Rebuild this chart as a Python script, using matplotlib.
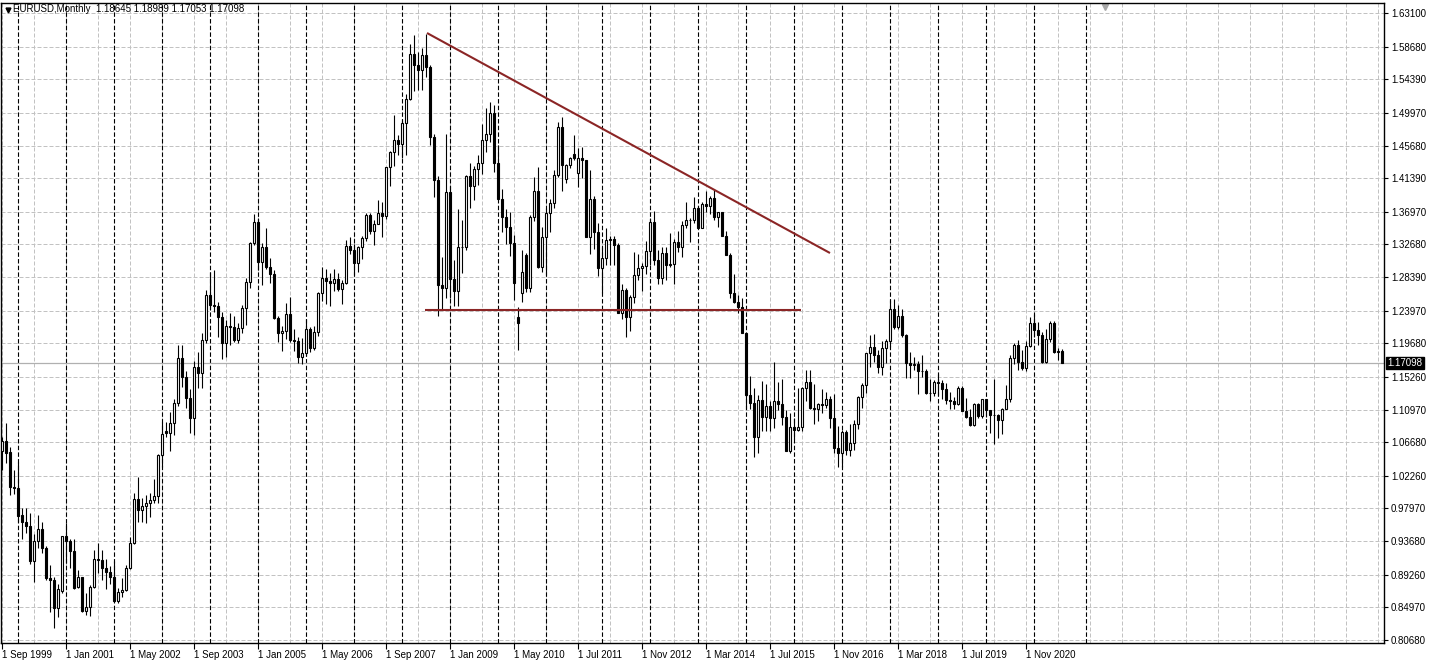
import numpy as np
import matplotlib
matplotlib.use('Agg')
from matplotlib import pyplot as plt
from matplotlib.transforms import blended_transform_factory

# EURUSD monthly, Sep 1999 .. Aug 2021 (broker data, 2 extra bars in 2011)
opens = [
    1.0553, 1.0684, 1.0535, 1.0084,                                   # 1999
    1.0070, 0.9711, 0.9624, 0.9571, 0.9107, 0.9369, 0.9523, 0.9273, 0.8888, 0.8857, 0.8493, 0.8717,  # 2000
    0.9435, 0.9374, 0.9243, 0.8760, 0.8892, 0.8449, 0.8498, 0.8760, 0.9129, 0.9120, 0.9010, 0.8966,  # 2001
    0.8901, 0.8585, 0.8695, 0.8725, 0.9010, 0.9339, 0.9917, 0.9777, 0.9830, 0.9865, 0.9908, 0.9960,  # 2002
    1.0500, 1.0815, 1.0785, 1.0916, 1.1188, 1.1771, 1.1530, 1.1245, 1.0982, 1.1661, 1.1583, 1.2011,  # 2003
    1.2603, 1.2472, 1.2460, 1.2318, 1.1977, 1.2196, 1.2180, 1.2011, 1.2170, 1.2428, 1.2770, 1.3282,  # 2004
    1.3567, 1.3041, 1.3230, 1.2967, 1.2880, 1.2296, 1.2108, 1.2125, 1.2349, 1.2011, 1.1996, 1.1789,  # 2005
    1.1838, 1.2152, 1.1902, 1.2121, 1.2634, 1.2822, 1.2793, 1.2764, 1.2808, 1.2677, 1.2764, 1.3247,  # 2006
    1.3199, 1.3028, 1.3230, 1.3357, 1.3651, 1.3450, 1.3540, 1.3683, 1.3642, 1.4280, 1.4487, 1.4641,  # 2007
    1.4590, 1.4868, 1.5175, 1.5767, 1.5627, 1.5561, 1.5758, 1.5605, 1.4684, 1.4115, 1.2735, 1.2691,  # 2008
    1.3961, 1.2809, 1.2660, 1.3238, 1.3229, 1.4167, 1.4035, 1.4260, 1.4334, 1.4641, 1.4719, 1.4993,  # 2009
    1.4334, 1.3860, 1.3633, 1.3501, 1.3291, 1.2318, 1.2634, 1.3129, 1.2691, 1.3624, 1.3975, 1.2976,  # 2010
    1.3370, 1.3685, 1.3808, 1.4180, 1.4816, 1.4124, 1.4312, 1.4453, 1.4203, 1.4400, 1.4373, 1.3370,
    1.3861, 1.3436,                                                   # 2011
    1.2954, 1.3085, 1.3326, 1.3340, 1.3261, 1.2362, 1.2669, 1.2310, 1.2581, 1.2866, 1.2954, 1.2990,  # 2012
    1.3186, 1.3567, 1.3063, 1.2822, 1.3160, 1.2997, 1.3010, 1.3304, 1.3240, 1.3523, 1.3589, 1.3595,  # 2013
    1.3745, 1.3480, 1.3799, 1.3770, 1.3874, 1.3633, 1.3692, 1.3379, 1.3129, 1.2625, 1.2516, 1.2450,  # 2014
    1.2099, 1.1289, 1.1188, 1.0732, 1.1223, 1.0995, 1.1149, 1.0985, 1.1211, 1.1176, 1.1004, 1.0557,  # 2015
    1.0872, 1.0831, 1.0873, 1.1376, 1.1464, 1.1113, 1.1103, 1.1175, 1.1157, 1.1240, 1.0982, 1.0588,  # 2016
    1.0522, 1.0807, 1.0566, 1.0653, 1.0908, 1.1258, 1.1420, 1.1836, 1.1924, 1.1812, 1.1652, 1.1900,  # 2017
    1.2005, 1.2415, 1.2187, 1.2327, 1.2077, 1.1705, 1.1684, 1.1690, 1.1600, 1.1605, 1.1311, 1.1316,  # 2018
    1.1464, 1.1448, 1.1371, 1.1223, 1.1214, 1.1170, 1.1376, 1.1083, 1.1004, 1.0894, 1.1170, 1.1013,  # 2019
    1.1232, 1.1091, 1.1026, 1.1030, 1.0960, 1.1100, 1.1232, 1.1771, 1.1946, 1.1727, 1.1639, 1.1933,  # 2020
    1.2231, 1.2143, 1.2077, 1.1727, 1.2020, 1.2231, 1.1857, 1.18645,                                 # 2021
]
highs = [
    1.0741, 1.0925, 1.0610, 1.0300,
    1.0414, 0.9799, 0.9800, 0.9733, 0.9457, 0.9711, 0.9624, 0.9304, 0.9054, 0.8901, 0.8800, 0.9435,
    0.9602, 0.9391, 0.9391, 0.8988, 0.8901, 0.8682, 0.8790, 0.9252, 0.9347, 0.9251, 0.9130, 0.9040,
    0.9110, 0.8747, 0.8880, 0.9054, 0.9427, 0.9996, 1.0215, 0.9930, 0.9974, 0.9996, 1.0184, 1.0510,
    1.0938, 1.0938, 1.1070, 1.1230, 1.1946, 1.1950, 1.1608, 1.1363, 1.1740, 1.1860, 1.2100, 1.2668,
    1.2900, 1.2930, 1.2510, 1.2375, 1.2270, 1.2360, 1.2325, 1.2240, 1.2470, 1.2822, 1.3300, 1.3670,
    1.3620, 1.3290, 1.3480, 1.3090, 1.2935, 1.2330, 1.2200, 1.2493, 1.2580, 1.2150, 1.2050, 1.2040,
    1.2285, 1.2180, 1.2197, 1.2640, 1.2975, 1.2950, 1.2890, 1.2940, 1.2890, 1.2800, 1.3320, 1.3365,
    1.3280, 1.3250, 1.3380, 1.3680, 1.3680, 1.3590, 1.3850, 1.3830, 1.4290, 1.4500, 1.4969, 1.4700,
    1.4900, 1.5250, 1.5905, 1.6020, 1.5800, 1.5850, 1.6038, 1.5620, 1.4720, 1.4170, 1.3107, 1.4720,
    1.4040, 1.3060, 1.3740, 1.3589, 1.4180, 1.4340, 1.4300, 1.4445, 1.4845, 1.5060, 1.5140, 1.5100,
    1.4580, 1.3990, 1.3740, 1.3690, 1.3390, 1.2450, 1.3195, 1.3150, 1.3650, 1.4159, 1.4290, 1.3500,
    1.3750, 1.3860, 1.4250, 1.4880, 1.4947, 1.4330, 1.4420, 1.4706, 1.4540, 1.4550, 1.4380, 1.4250,
    1.3900, 1.3550,
    1.3235, 1.3485, 1.3385, 1.3380, 1.3283, 1.2747, 1.2690, 1.2600, 1.3170, 1.3140, 1.3030, 1.3310,
    1.3610, 1.3711, 1.3200, 1.3240, 1.3240, 1.3415, 1.3345, 1.3450, 1.3570, 1.3830, 1.3620, 1.3893,
    1.3775, 1.3825, 1.3965, 1.3905, 1.3993, 1.3700, 1.3700, 1.3445, 1.3150, 1.2885, 1.2600, 1.2570,
    1.2100, 1.1534, 1.1385, 1.1290, 1.1467, 1.1435, 1.1215, 1.1727, 1.1460, 1.1495, 1.1095, 1.1050,
    1.0990, 1.1375, 1.1400, 1.1617, 1.1615, 1.1428, 1.1185, 1.1365, 1.1330, 1.1280, 1.1300, 1.0875,
    1.0830, 1.0830, 1.0905, 1.0955, 1.1270, 1.1445, 1.1845, 1.2077, 1.2090, 1.1880, 1.2000, 1.2025,
    1.2537, 1.2555, 1.2475, 1.2415, 1.2095, 1.1850, 1.1790, 1.1735, 1.1815, 1.1625, 1.1500, 1.1485,
    1.1570, 1.1490, 1.1450, 1.1325, 1.1265, 1.1410, 1.1410, 1.1250, 1.1110, 1.1180, 1.1180, 1.1240,
    1.1240, 1.1095, 1.1494, 1.1040, 1.1120, 1.1422, 1.1810, 1.1966, 1.2011, 1.1880, 1.2000, 1.2310,
    1.2350, 1.2243, 1.2113, 1.2150, 1.2265, 1.2255, 1.1910, 1.18989,
]
lows = [
    1.0300, 1.0390, 0.9974, 0.9990,
    0.9624, 0.9391, 0.9480, 0.9067, 0.8835, 0.9282, 0.9208, 0.8857, 0.8441, 0.8228, 0.8366, 0.8683,
    0.9085, 0.9010, 0.8734, 0.8747, 0.8441, 0.8397, 0.8380, 0.8747, 0.8950, 0.8857, 0.8734, 0.8800,
    0.8572, 0.8560, 0.8638, 0.8717, 0.8997, 0.9330, 0.9624, 0.9624, 0.9611, 0.9690, 0.9865, 0.9865,
    1.0347, 1.0740, 1.0557, 1.0760, 1.1150, 1.1398, 1.1113, 1.0793, 1.0763, 1.1380, 1.1380, 1.1968,
    1.2400, 1.2380, 1.2055, 1.1760, 1.1790, 1.1950, 1.1990, 1.1970, 1.2110, 1.2210, 1.2700, 1.3260,
    1.2930, 1.2730, 1.2950, 1.2760, 1.2290, 1.1990, 1.1870, 1.2020, 1.1990, 1.1870, 1.1710, 1.1700,
    1.1800, 1.1860, 1.1880, 1.2070, 1.2520, 1.2480, 1.2460, 1.2660, 1.2660, 1.2480, 1.2750, 1.3140,
    1.2860, 1.2910, 1.3080, 1.3310, 1.3410, 1.3265, 1.3530, 1.3370, 1.3600, 1.4030, 1.4300, 1.4440,
    1.4400, 1.4440, 1.5170, 1.5280, 1.5300, 1.5300, 1.5470, 1.4575, 1.3896, 1.2330, 1.2420, 1.2560,
    1.2560, 1.2460, 1.2457, 1.2888, 1.3200, 1.3750, 1.3850, 1.4050, 1.4200, 1.4480, 1.4620, 1.4220,
    1.3860, 1.3430, 1.3270, 1.3115, 1.2537, 1.1880, 1.2516, 1.2647, 1.2640, 1.3580, 1.2960, 1.2900,
    1.2870, 1.3430, 1.3750, 1.4150, 1.3970, 1.4070, 1.4270, 1.4380, 1.4020, 1.4140, 1.3360, 1.3145,
    1.3210, 1.2858,
    1.2625, 1.3000, 1.3000, 1.3000, 1.2362, 1.2288, 1.2047, 1.2130, 1.2500, 1.2800, 1.2660, 1.2880,
    1.3000, 1.3000, 1.2745, 1.2750, 1.2795, 1.2970, 1.2750, 1.3170, 1.3100, 1.3480, 1.3300, 1.3550,
    1.3480, 1.3480, 1.3700, 1.3670, 1.3590, 1.3500, 1.3380, 1.3130, 1.2570, 1.2500, 1.2360, 1.2099,
    1.1100, 1.1100, 1.0469, 1.0520, 1.0820, 1.0820, 1.0810, 1.0850, 1.1090, 1.0895, 1.0557, 1.0525,
    1.0710, 1.0810, 1.0820, 1.1215, 1.1100, 1.0910, 1.0950, 1.1050, 1.1120, 1.0850, 1.0520, 1.0347,
    1.0340, 1.0495, 1.0490, 1.0570, 1.0840, 1.1120, 1.1310, 1.1660, 1.1720, 1.1575, 1.1555, 1.1715,
    1.1915, 1.2155, 1.2155, 1.2055, 1.1510, 1.1510, 1.1615, 1.1300, 1.1525, 1.1300, 1.1215, 1.1270,
    1.1290, 1.1235, 1.1175, 1.1110, 1.1105, 1.1160, 1.1075, 1.0980, 1.0880, 1.0880, 1.0980, 1.0980,
    1.1000, 1.0785, 1.0645, 1.0727, 1.0770, 1.1100, 1.1200, 1.1695, 1.1612, 1.1612, 1.1600, 1.1925,
    1.2055, 1.1950, 1.1705, 1.1705, 1.1985, 1.1845, 1.1750, 1.17053,
]
closes = [
    1.0684, 1.0522, 1.0084, 1.0070,
    0.9702, 0.9624, 0.9571, 0.9107, 0.9369, 0.9523, 0.9273, 0.8888, 0.8857, 0.8493, 0.8734, 0.9435,
    0.9374, 0.9243, 0.8747, 0.8892, 0.8449, 0.8498, 0.8760, 0.9129, 0.9120, 0.9010, 0.8966, 0.8901,
    0.8585, 0.8695, 0.8725, 0.9010, 0.9339, 0.9917, 0.9777, 0.9830, 0.9865, 0.9908, 0.9960, 1.0500,
    1.0776, 1.0785, 1.0916, 1.1188, 1.1771, 1.1530, 1.1245, 1.0982, 1.1661, 1.1583, 1.2011, 1.2603,
    1.2472, 1.2460, 1.2318, 1.1977, 1.2196, 1.2180, 1.2011, 1.2170, 1.2428, 1.2770, 1.3282, 1.3567,
    1.3041, 1.3230, 1.2967, 1.2880, 1.2296, 1.2108, 1.2125, 1.2349, 1.2011, 1.1996, 1.1789, 1.1838,
    1.2152, 1.1902, 1.2121, 1.2634, 1.2822, 1.2793, 1.2764, 1.2808, 1.2677, 1.2764, 1.3247, 1.3199,
    1.3028, 1.3230, 1.3357, 1.3651, 1.3450, 1.3540, 1.3683, 1.3642, 1.4280, 1.4487, 1.4641, 1.4590,
    1.4868, 1.5175, 1.5767, 1.5627, 1.5561, 1.5758, 1.5605, 1.4684, 1.4115, 1.2735, 1.2691, 1.3961,
    1.2809, 1.2660, 1.3238, 1.3229, 1.4167, 1.4035, 1.4260, 1.4334, 1.4641, 1.4719, 1.4993, 1.4334,
    1.3860, 1.3633, 1.3501, 1.3291, 1.2757, 1.2230, 1.2910, 1.2691, 1.3624, 1.3975, 1.2976, 1.3370,
    1.3685, 1.3808, 1.4180, 1.4816, 1.4312, 1.4312, 1.4400, 1.4400, 1.4400, 1.4373, 1.3370, 1.3861,
    1.3436, 1.2954,
    1.3085, 1.3326, 1.3340, 1.3261, 1.2362, 1.2669, 1.2310, 1.2581, 1.2866, 1.2954, 1.2990, 1.3186,
    1.3567, 1.3063, 1.2822, 1.3160, 1.2997, 1.3010, 1.3304, 1.3240, 1.3523, 1.3589, 1.3595, 1.3745,
    1.3480, 1.3799, 1.3770, 1.3874, 1.3633, 1.3692, 1.3379, 1.3129, 1.2625, 1.2516, 1.2450, 1.2099,
    1.1289, 1.1188, 1.0732, 1.1223, 1.0995, 1.1149, 1.0985, 1.1211, 1.1176, 1.1004, 1.0557, 1.0872,
    1.0831, 1.0873, 1.1376, 1.1464, 1.1113, 1.1103, 1.1175, 1.1157, 1.1240, 1.0982, 1.0588, 1.0522,
    1.0807, 1.0566, 1.0653, 1.0908, 1.1258, 1.1420, 1.1836, 1.1924, 1.1812, 1.1652, 1.1900, 1.2005,
    1.2415, 1.2187, 1.2327, 1.2077, 1.1705, 1.1684, 1.1690, 1.1600, 1.1605, 1.1311, 1.1316, 1.1464,
    1.1448, 1.1371, 1.1223, 1.1214, 1.1170, 1.1376, 1.1083, 1.1004, 1.0894, 1.1170, 1.1013, 1.1232,
    1.1091, 1.1026, 1.1030, 1.0960, 1.1100, 1.1232, 1.1771, 1.1946, 1.1727, 1.1639, 1.1933, 1.2231,
    1.2143, 1.2077, 1.1727, 1.2020, 1.2231, 1.1857, 1.1865, 1.17098,
]

date_labels = ['1 Sep 1999', '1 Jan 2001', '1 May 2002', '1 Sep 2003', '1 Jan 2005', '1 May 2006',
               '1 Sep 2007', '1 Jan 2009', '1 May 2010', '1 Jul 2011', '1 Nov 2012', '1 Mar 2014',
               '1 Jul 2015', '1 Nov 2016', '1 Mar 2018', '1 Jul 2019', '1 Nov 2020']
price_ticks = [1.63100, 1.58680, 1.54390, 1.49970, 1.45680, 1.41390, 1.36970, 1.32680, 1.28390, 1.23970,
               1.19680, 1.15260, 1.10970, 1.06680, 1.02260, 0.97970, 0.93680, 0.89260, 0.84970, 0.80680]

# year separators (bar index of january)
year_bars = list(range(4, 137, 12)) + list(range(150, 259, 12)) + [271]

# trend lines drawn on the chart (bar index, price)
trend_x = [106.25, 207.0]
trend_y = [1.6047, 1.3155]
support_x = [105.75, 199.75]
support_y = [1.2406, 1.2406]

last_price = 1.17098

o = np.array(opens)
h = np.array(highs)
l = np.array(lows)
c = np.array(closes)
x = np.arange(len(c))
up = c >= o

W, H = 1429, 663
fig = plt.figure(figsize=(W / 100, H / 100), dpi=100)
ax = fig.add_axes([1 / W, 20 / H, 1383 / W, 640 / H])
ax.set_xlim(-0.25, 345.5)
ax.set_ylim(0.80287, 1.64415)

# grid
for v in price_ticks:
    ax.axhline(v, color='#c2c2c2', lw=0.72, ls=(0, (4, 2)), zorder=0)
for b in range(0, 346, 8):
    ax.axvline(b, color='#c2c2c2', lw=0.72, ls=(0, (4, 2)), zorder=0)
for b in year_bars:
    ax.axvline(b, color='black', lw=0.8, ls=(0, (4, 2)), zorder=1)

ax.axhline(last_price, color='#b0b0b0', lw=0.9, zorder=1)

# candles
ax.vlines(x, l, h, color='black', lw=0.8, zorder=3)
ax.bar(x[up], (c - o)[up], bottom=o[up], width=0.5, facecolor='white', edgecolor='black', lw=0.8, zorder=4)
ax.bar(x[~up], (o - c)[~up], bottom=c[~up], width=0.5, facecolor='black', edgecolor='black', lw=0.8, zorder=4)

# trend lines
ax.plot(trend_x, trend_y, color='#8b2525', lw=1.5, zorder=5, solid_capstyle='butt')
ax.plot(support_x, support_y, color='#8b2525', lw=1.5, zorder=5, solid_capstyle='butt')

fnt = {'family': ['Liberation Sans', 'DejaVu Sans'], 'size': 7.0}

ax.yaxis.tick_right()
ax.set_yticks(price_ticks, ['%.5f' % v for v in price_ticks], fontdict=fnt)
ax.set_xticks(np.arange(0, 16 * len(date_labels), 16), date_labels, fontdict=fnt, ha='left')
ax.tick_params(axis='y', length=3, width=0.8, pad=2)
ax.tick_params(axis='x', length=4, width=0.8, pad=1)
for s in ax.spines.values():
    s.set_linewidth(1.0)

# current price box
tr = blended_transform_factory(ax.transAxes, ax.transData)
ax.text(1.0025, last_price, '%.5f' % last_price, transform=tr, color='white', va='center', ha='left',
        fontdict=fnt, bbox=dict(boxstyle='square,pad=0.12', facecolor='black', edgecolor='black'),
        clip_on=False, zorder=6)

# title + markers
ax.plot([0.005], [0.989], marker='v', color='black', ms=3.5, transform=ax.transAxes, clip_on=False)
ax.text(0.0085, 0.990, 'EURUSD,Monthly  1.18645 1.18989 1.17053 1.17098', transform=ax.transAxes,
        va='center', ha='left', fontdict=fnt)
tr2 = blended_transform_factory(ax.transData, ax.transAxes)
ax.plot([275.75], [0.993], marker='v', color='#a8a8a8', ms=5, transform=tr2, clip_on=False)

fig.savefig('out.png', dpi=100, facecolor='white')
